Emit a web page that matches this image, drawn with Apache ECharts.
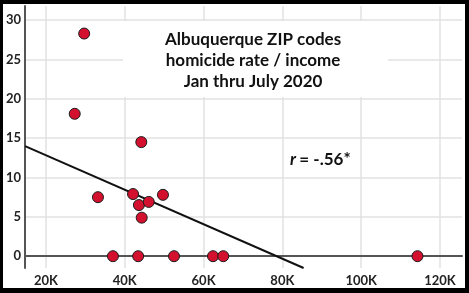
<!DOCTYPE html>
<html>
<head>
<meta charset="utf-8">
<script src="https://cdn.jsdelivr.net/npm/echarts@6/dist/echarts.min.js"></script>
<style>
html,body{margin:0;padding:0;background:#000;}
#wrap{position:absolute;left:0;top:0;width:469px;height:293px;background:#000;}
#chart{position:absolute;left:3px;top:4px;width:462px;height:284px;background:#fff;}
</style>
</head>
<body>
<div id="wrap"><div id="chart"></div></div>
<script>
// Median household income (dollars) per ZIP code
const income = [29700, 27300, 44200, 33200, 37000, 43400, 42100, 43600, 46100, 44300, 49700, 52500, 62400, 65000, 114300];
// Homicide rate per ZIP code
const rate = [28.3, 18.1, 14.5, 7.5, 0, 0, 7.9, 6.5, 6.9, 4.9, 7.8, 0, 0, 0, 0];
// Regression line endpoints [income, rate]
const trendX = [14700, 85400];
const trendY = [13.98, -1.5];
// Tick values
const xTicks = [20000, 40000, 60000, 80000, 100000, 120000];
const yTicks = [0, 5, 10, 15, 20, 25, 30];
const titleLines = ['Albuquerque ZIP codes', 'homicide rate / income', 'Jan thru July 2020'];

const chart = echarts.init(document.getElementById('chart'));
const font = 'Lato, "Liberation Sans", sans-serif';
chart.setOption({
  animation: false,
  grid: {left: 21, right: 3, top: 2, bottom: 20},
  xAxis: {
    type: 'value', min: 14700, max: 125600,
    axisLine: {show: true, lineStyle: {color: '#555', width: 2}},
    axisTick: {show: false, customValues: xTicks},
    axisLabel: {customValues: xTicks, formatter: v => (v / 1000) + 'K', color: '#222', fontFamily: font, fontWeight: 'bold', fontSize: 13, margin: 6},
    splitLine: {show: true, lineStyle: {color: '#e2e2e2', width: 1.5}}
  },
  yAxis: {
    type: 'value', min: -1.5, max: 31.8,
    axisLine: {show: true, lineStyle: {color: '#555', width: 2}},
    axisTick: {show: false, customValues: yTicks},
    axisLabel: {customValues: yTicks, color: '#222', fontFamily: font, fontWeight: 'bold', fontSize: 13, margin: 4},
    splitLine: {show: true, lineStyle: {color: '#e2e2e2', width: 1.5}}
  },
  graphic: [
    {type: 'rect', z: 5, shape: {x: 120, y: 17, width: 265, height: 76}, style: {fill: '#fff'}},
    {type: 'text', z: 6, left: 162, top: 25, style: {text: titleLines.join('\n'), fill: '#111', font: 'bold 17px ' + font, textAlign: 'center', lineHeight: 21}},
    {type: 'text', z: 6, left: 287, top: 147, style: {
      text: '{i|r} {n|= -.56*}',
      rich: {i: {font: 'italic bold 17px ' + font, fill: '#111'}, n: {font: 'bold 17px ' + font, fill: '#111'}}
    }}
  ],
  series: [
    {
      type: 'line', data: trendX.map((x, i) => [x, trendY[i]]),
      symbol: 'none', lineStyle: {color: '#111', width: 2}, silent: true, z: 2
    },
    {
      type: 'scatter', data: income.map((x, i) => [x, rate[i]]),
      symbolSize: 11, clip: false, z: 3,
      itemStyle: {color: '#d4102f', borderColor: '#1a1a1a', borderWidth: 1, opacity: 1}
    }
  ]
});
</script>
</body>
</html>
